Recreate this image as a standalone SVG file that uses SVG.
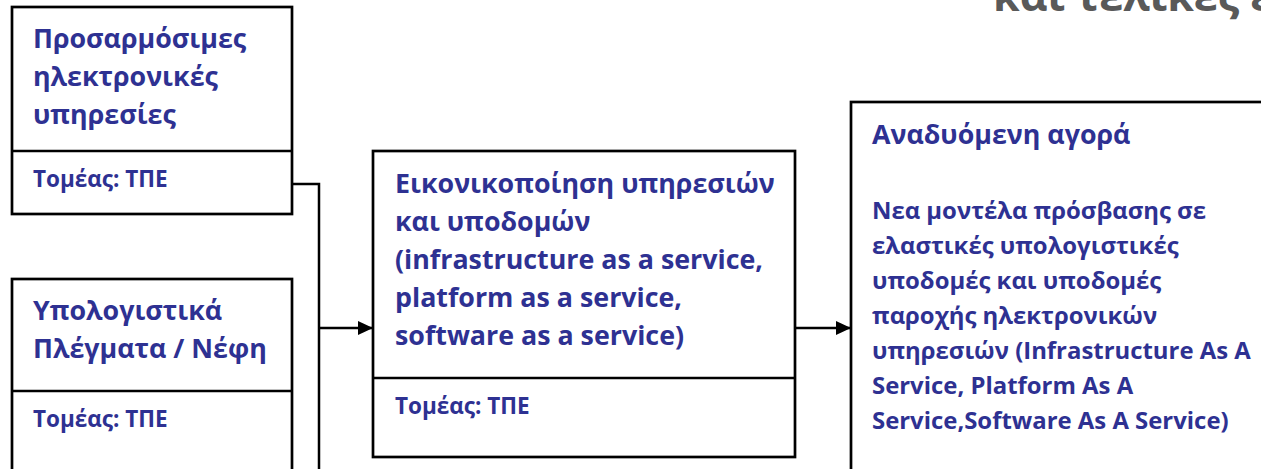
<svg xmlns="http://www.w3.org/2000/svg" width="1261" height="469" viewBox="0 0 1261 469">
  <defs>
    <marker id="arrow" markerWidth="15" markerHeight="14" refX="15" refY="7" orient="auto" markerUnits="userSpaceOnUse">
      <path d="M0,0 L15,7 L0,14 Z" fill="#000"/>
    </marker>
    <style>
      .box { fill: #fff; stroke: #000; stroke-width: 2.7; }
      .sep { stroke: #000; stroke-width: 2.7; }
      .wire { fill: none; stroke: #000; stroke-width: 2.5; }
      .t { font-family: "Open Sans", "Noto Sans", sans-serif; font-weight: bold; fill: #2e3192; }
      .big { font-size: 26.8px; }
      .body { font-size: 23.9px; }
      .small { font-size: 22.5px; }
      .title { font-family: "Open Sans", "Noto Sans", sans-serif; font-weight: bold; font-size: 43px; fill: #595959; }
    </style>
  </defs>

  <rect width="1261" height="469" fill="#fff"/>

  <!-- heading, running off the top right -->
  <text class="title" x="993" y="11">και τελικές ε</text>

  <!-- connectors -->
  <g id="connectors">
    <polyline class="wire" points="292,184 319,184 319,469"/>
    <line class="wire" x1="319" y1="328" x2="373" y2="328" marker-end="url(#arrow)"/>
    <line class="wire" x1="795" y1="328" x2="851" y2="328" marker-end="url(#arrow)"/>
  </g>

  <g id="node-adaptive-services">
    <rect class="box" x="12" y="7" width="280" height="207"/>
    <line class="sep" x1="12" y1="151" x2="292" y2="151"/>
    <text class="t big" x="33" y="48">Προσαρμόσιμες</text>
    <text class="t big" x="33" y="86">ηλεκτρονικές</text>
    <text class="t big" x="33" y="124">υπηρεσίες</text>
    <text class="t small" x="33" y="187">Τομέας: ΤΠΕ</text>
  </g>

  <g id="node-grids-clouds">
    <rect class="box" x="12" y="279" width="280" height="200"/>
    <line class="sep" x1="12" y1="391" x2="292" y2="391"/>
    <text class="t big" x="33" y="320">Υπολογιστικά</text>
    <text class="t big" x="33" y="358">Πλέγματα / Νέφη</text>
    <text class="t small" x="33" y="427">Τομέας: ΤΠΕ</text>
  </g>

  <g id="node-virtualisation">
    <rect class="box" x="373" y="151" width="422" height="306"/>
    <line class="sep" x1="373" y1="378" x2="795" y2="378"/>
    <text class="t big" x="395" y="193">Εικονικοποίηση υπηρεσιών</text>
    <text class="t big" x="395" y="231">και υποδομών</text>
    <text class="t big" x="395" y="269">(infrastructure as a service,</text>
    <text class="t big" x="395" y="307">platform as a service,</text>
    <text class="t big" x="395" y="345">software as a service)</text>
    <text class="t small" x="395" y="414">Τομέας: ΤΠΕ</text>
  </g>

  <g id="node-emerging-market">
    <rect class="box" x="851" y="102" width="420" height="380"/>
    <text class="t big" x="872" y="144">Αναδυόμενη αγορά</text>
    <text class="t body" x="872" y="219">Νεα μοντέλα πρόσβασης σε</text>
    <text class="t body" x="872" y="254">ελαστικές υπολογιστικές</text>
    <text class="t body" x="872" y="289">υποδομές και υποδομές</text>
    <text class="t body" x="872" y="324">παροχής ηλεκτρονικών</text>
    <text class="t body" x="872" y="359">υπηρεσιών (Infrastructure As A</text>
    <text class="t body" x="872" y="394">Service, Platform As A</text>
    <text class="t body" x="872" y="429">Service,Software As A Service)</text>
  </g>
</svg>
